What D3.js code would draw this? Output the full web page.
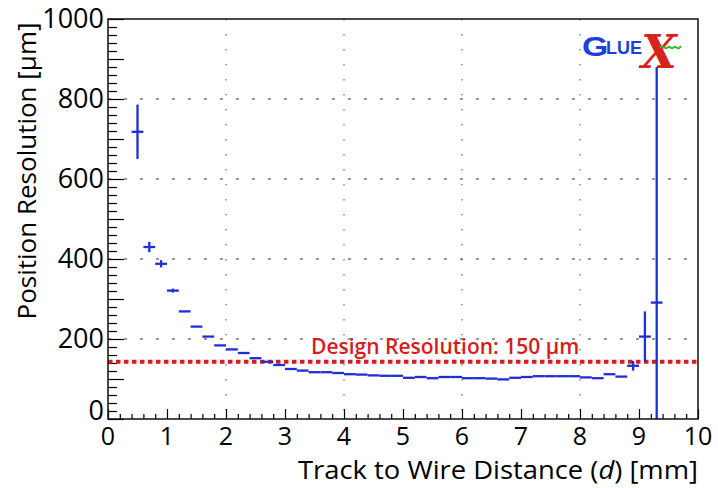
<!DOCTYPE html>
<html>
<head>
<meta charset="utf-8">
<script src="https://cdn.jsdelivr.net/npm/d3@7"></script>
<style>
  body { margin: 0; background: #fff; }
  svg { display: block; font-family: "Open Sans", sans-serif; }
</style>
</head>
<body>
<div id="chart"></div>
<script>
// bin centres [mm] (0.2 mm bins)
const binCenters = [0.5, 0.7, 0.9, 1.1, 1.3, 1.5, 1.7, 1.9, 2.1, 2.3, 2.5, 2.7, 2.9, 3.1, 3.3,
  3.5, 3.7, 3.9, 4.1, 4.3, 4.5, 4.7, 4.9, 5.1, 5.3, 5.5, 5.7, 5.9, 6.1, 6.3,
  6.5, 6.7, 6.9, 7.1, 7.3, 7.5, 7.7, 7.9, 8.1, 8.3, 8.5, 8.7, 8.9, 9.1, 9.3];
const binHalfWidth = 0.1;
// position resolution [um]
const resolution = [718, 430, 388, 321, 269, 231, 206, 184, 174, 165, 152, 143, 135, 125, 121,
  117, 117, 115, 112, 111, 109, 108, 108, 103, 105, 102, 105, 105, 102, 102,
  101, 99, 103, 105, 107, 107, 107, 107, 104, 102, 112, 106, 133, 206, 291];
// vertical error [um]
const resolutionErr = [68, 13, 9, 5, 3, 2, 2, 2, 2, 2, 2, 2, 2, 2, 2,
  2, 2, 2, 2, 2, 2, 2, 2, 2, 2, 2, 2, 2, 2, 2,
  2, 2, 2, 2, 2, 2, 2, 2, 2, 2, 2, 2, 12, 63, 589];
const designResolution = 143;
const designLabel = "Design Resolution:  150 \u00b5m";
const xTicks = [0, 1, 2, 3, 4, 5, 6, 7, 8, 9, 10];
const yTicks = [0, 200, 400, 600, 800, 1000];
const xGrid = [2, 4, 6, 8];
const yGrid = [200, 400, 600, 800];

const width = 718, height = 488;
const frame = { left: 108, right: 698, top: 19, bottom: 419 };
const blue = "#1f2fd6", red = "#d81c1c";

const svg = d3.select("#chart").append("svg")
  .attr("width", width)
  .attr("height", height);

const x = d3.scaleLinear().domain([0, 10]).range([frame.left, frame.right]);
const y = d3.scaleLinear().domain([0, 1000]).range([frame.bottom, frame.top]);

// dotted grid
svg.append("g").selectAll("line").data(xGrid).enter().append("line")
  .attr("x1", d => x(d)).attr("x2", d => x(d))
  .attr("y1", frame.top).attr("y2", frame.bottom)
  .attr("stroke", "#777").attr("stroke-width", 1.3)
  .attr("stroke-dasharray", "1.5,13.5");
svg.append("g").selectAll("line").data(yGrid).enter().append("line")
  .attr("x1", frame.left).attr("x2", frame.right)
  .attr("y1", d => y(d)).attr("y2", d => y(d))
  .attr("stroke", "#777").attr("stroke-width", 1.3)
  .attr("stroke-dasharray", "3,13");

// ticks (inside the frame, bottom and left only)
const xAxis = d3.axisTop(x)
  .tickValues(d3.range(0, 10.001, 0.2))
  .tickSize(5).tickFormat("");
svg.append("g").attr("transform", `translate(0,${frame.bottom})`).call(xAxis)
  .call(g => g.select(".domain").remove())
  .call(g => g.selectAll(".tick line")
    .attr("y2", d => Math.abs(d - Math.round(d)) < 1e-6 ? -10 : -5)
    .attr("stroke-width", 1.2));

const yAxis = d3.axisRight(y)
  .tickValues(d3.range(0, 1000.001, 20))
  .tickSize(9).tickFormat("");
svg.append("g").attr("transform", `translate(${frame.left},0)`).call(yAxis)
  .call(g => g.select(".domain").remove())
  .call(g => g.selectAll(".tick line")
    .attr("x2", d => Math.abs(d / 100 - Math.round(d / 100)) < 1e-6 ? 16 : 9)
    .attr("stroke-width", 1.2));

// tick labels
svg.append("g").selectAll("text").data(xTicks).enter().append("text")
  .attr("x", d => x(d)).attr("y", 445)
  .attr("text-anchor", "middle")
  .attr("font-size", 25)
  .text(d => d);
svg.append("g").selectAll("text").data(yTicks).enter().append("text")
  .attr("x", 104).attr("y", d => y(d) + (d === 0 ? 1 : 9))
  .attr("text-anchor", "end")
  .attr("font-size", 27)
  .text(d => d);

// axis titles
svg.append("text")
  .attr("x", frame.right).attr("y", 479)
  .attr("text-anchor", "end")
  .attr("font-size", 25)
  .attr("textLength", 400)
  .attr("lengthAdjust", "spacingAndGlyphs")
  .html('Track to Wire Distance (<tspan font-style="italic">d</tspan>) [mm]');
svg.append("text")
  .attr("transform", "translate(36,171) rotate(-90)")
  .attr("text-anchor", "middle")
  .attr("font-size", 26)
  .text("Position Resolution [\u00b5m]");

// design resolution line + label
svg.append("line")
  .attr("x1", frame.left).attr("x2", frame.right)
  .attr("y1", y(designResolution)).attr("y2", y(designResolution))
  .attr("stroke", red).attr("stroke-width", 4)
  .attr("stroke-dasharray", "4.5,3.5");
svg.append("text")
  .attr("x", 311).attr("y", 354)
  .attr("fill", red)
  .attr("font-size", 21)
  .attr("font-weight", 600)
  .text(designLabel);

// data points with error bars
const pts = binCenters.map((c, i) => ({ x: c, v: resolution[i], e: resolutionErr[i] }));
svg.append("defs").append("clipPath").attr("id", "plotClip")
  .append("rect").attr("x", frame.left).attr("y", frame.top)
  .attr("width", frame.right - frame.left).attr("height", frame.bottom - frame.top);
const marks = svg.append("g").attr("clip-path", "url(#plotClip)")
  .attr("stroke", blue).attr("stroke-width", 2.3);
marks.selectAll(".h").data(pts).enter().append("line")
  .attr("x1", d => x(d.x - binHalfWidth)).attr("x2", d => x(d.x + binHalfWidth))
  .attr("y1", d => y(d.v)).attr("y2", d => y(d.v));
marks.selectAll(".v").data(pts.filter(d => d.e > 3)).enter().append("line")
  .attr("x1", d => x(d.x)).attr("x2", d => x(d.x))
  .attr("y1", d => y(d.v - d.e)).attr("y2", d => y(d.v + d.e));

// frame
svg.append("rect")
  .attr("x", frame.left).attr("y", frame.top)
  .attr("width", frame.right - frame.left).attr("height", frame.bottom - frame.top)
  .attr("fill", "none").attr("stroke", "#111").attr("stroke-width", 1.5);

// GlueX logo
const logo = svg.append("g").attr("font-weight", "bold");
logo.append("text").attr("x", 582).attr("y", 56)
  .attr("font-family", "Liberation Sans, sans-serif")
  .attr("font-size", 27).attr("fill", "#1b3fe0")
  .attr("transform", "translate(582,56) scale(1.25,1) translate(-582,-56)")
  .text("G");
logo.append("text").attr("x", 606).attr("y", 54)
  .attr("font-family", "Liberation Sans, sans-serif")
  .attr("font-size", 18).attr("fill", "#1b3fe0")
  .text("LUE");
logo.append("text").attr("x", 641).attr("y", 68)
  .attr("font-family", "DejaVu Serif, serif")
  .attr("font-style", "italic")
  .attr("font-size", 46).attr("fill", "#d8231c")
  .text("X");
logo.append("path")
  .attr("d", d3.line().curve(d3.curveBasis)([[660, 48], [663, 45], [666, 50], [669, 45], [672, 50], [675, 45], [678, 50], [681, 46]]))
  .attr("fill", "none").attr("stroke", "#3bb52a").attr("stroke-width", 2);
</script>
</body>
</html>
